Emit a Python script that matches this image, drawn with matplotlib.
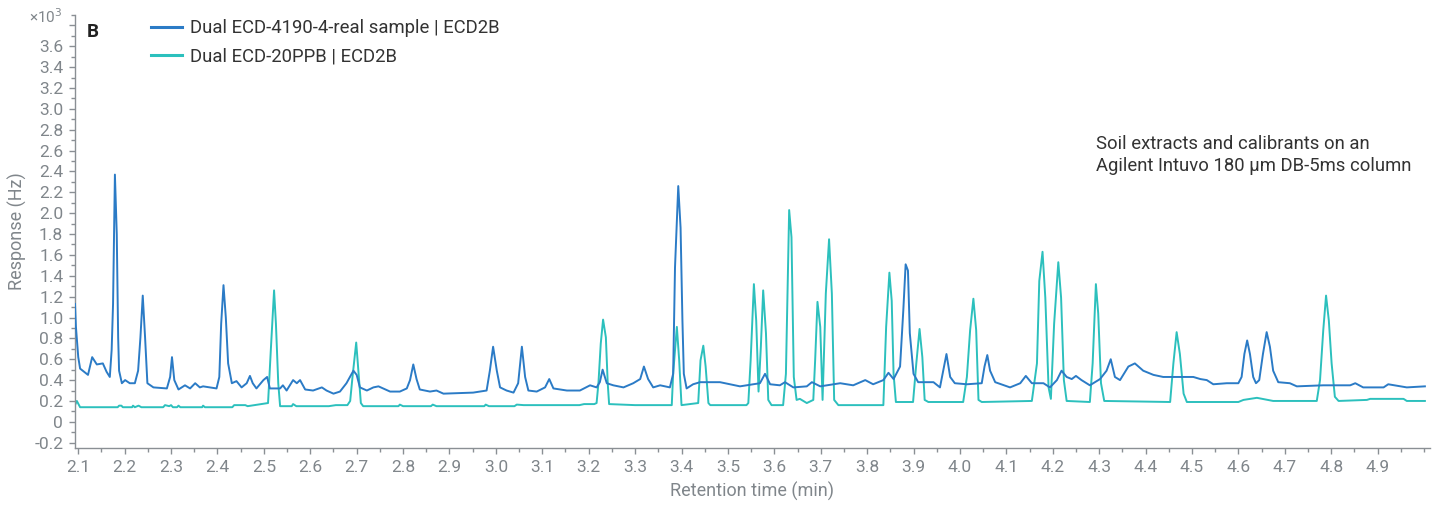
import matplotlib
matplotlib.use("Agg")
import matplotlib.pyplot as plt
from matplotlib.ticker import MultipleLocator, FixedLocator, FixedFormatter

plt.rcParams['font.family'] = ['Roboto', 'DejaVu Sans']

# Retention time (min) and response (x10^3 Hz) for the soil extract trace
sample_time = [
    2.093, 2.095, 2.100, 2.104, 2.121, 2.130, 2.140, 2.153, 2.161, 2.168,
    2.172, 2.175, 2.179, 2.183, 2.186, 2.188, 2.194, 2.201, 2.211, 2.222,
    2.229, 2.234, 2.239, 2.244, 2.249, 2.262, 2.291, 2.298, 2.302, 2.307,
    2.316, 2.330, 2.341, 2.352, 2.362, 2.369, 2.398, 2.404, 2.408, 2.413,
    2.418, 2.423, 2.431, 2.441, 2.452, 2.463, 2.470, 2.476, 2.484, 2.499,
    2.507, 2.513, 2.535, 2.541, 2.549, 2.563, 2.571, 2.578, 2.589, 2.606,
    2.625, 2.635, 2.650, 2.664, 2.678, 2.693, 2.700, 2.707, 2.722, 2.736,
    2.747, 2.757, 2.772, 2.793, 2.808, 2.815, 2.822, 2.829, 2.836, 2.858,
    2.872, 2.887, 2.951, 2.980, 2.987, 2.994, 3.002, 3.009, 3.023, 3.038,
    3.048, 3.056, 3.063, 3.070, 3.088, 3.106, 3.115, 3.124, 3.153, 3.181,
    3.203, 3.217, 3.224, 3.230, 3.239, 3.253, 3.275, 3.296, 3.311, 3.319,
    3.328, 3.339, 3.354, 3.375, 3.382, 3.386, 3.393, 3.398, 3.402, 3.405,
    3.411, 3.425, 3.440, 3.483, 3.526, 3.569, 3.580, 3.591, 3.612, 3.623,
    3.641, 3.670, 3.681, 3.699, 3.742, 3.770, 3.796, 3.813, 3.835, 3.846,
    3.857, 3.871, 3.878, 3.883, 3.888, 3.892, 3.900, 3.910, 3.943, 3.957,
    3.964, 3.971, 3.979, 3.989, 4.015, 4.047, 4.053, 4.059, 4.065, 4.076,
    4.108, 4.130, 4.142, 4.155, 4.180, 4.194, 4.209, 4.219, 4.230, 4.241,
    4.250, 4.262, 4.280, 4.302, 4.316, 4.325, 4.334, 4.345, 4.363, 4.377,
    4.395, 4.417, 4.438, 4.474, 4.503, 4.518, 4.532, 4.546, 4.575, 4.600,
    4.607, 4.613, 4.619, 4.625, 4.632, 4.638, 4.645, 4.653, 4.661, 4.668,
    4.675, 4.686, 4.711, 4.726, 4.783, 4.841, 4.852, 4.869, 4.913, 4.923,
    4.963, 5.002,
]
sample_resp = [
    1.13, 0.91, 0.62, 0.51, 0.45, 0.62, 0.55, 0.56, 0.48, 0.43,
    0.69, 1.13, 2.37, 1.80, 0.81, 0.49, 0.37, 0.40, 0.37, 0.37,
    0.49, 0.81, 1.21, 0.81, 0.37, 0.33, 0.32, 0.43, 0.62, 0.40,
    0.31, 0.35, 0.32, 0.37, 0.33, 0.34, 0.32, 0.43, 0.94, 1.31,
    1.00, 0.56, 0.37, 0.39, 0.33, 0.37, 0.44, 0.37, 0.32, 0.40,
    0.43, 0.32, 0.32, 0.35, 0.30, 0.40, 0.37, 0.40, 0.31, 0.30,
    0.33, 0.30, 0.27, 0.29, 0.37, 0.49, 0.45, 0.33, 0.30, 0.33,
    0.34, 0.32, 0.29, 0.29, 0.32, 0.40, 0.55, 0.41, 0.31, 0.29,
    0.30, 0.27, 0.28, 0.30, 0.49, 0.72, 0.49, 0.33, 0.30, 0.28,
    0.37, 0.72, 0.43, 0.30, 0.29, 0.33, 0.41, 0.32, 0.30, 0.30,
    0.35, 0.33, 0.38, 0.50, 0.37, 0.35, 0.33, 0.37, 0.41, 0.53,
    0.41, 0.33, 0.35, 0.33, 0.46, 1.48, 2.26, 1.86, 0.97, 0.46,
    0.32, 0.36, 0.38, 0.38, 0.34, 0.37, 0.46, 0.36, 0.35, 0.38,
    0.33, 0.34, 0.38, 0.34, 0.37, 0.35, 0.40, 0.36, 0.40, 0.47,
    0.41, 0.53, 1.07, 1.51, 1.45, 0.85, 0.46, 0.38, 0.38, 0.33,
    0.49, 0.65, 0.43, 0.37, 0.36, 0.37, 0.53, 0.64, 0.49, 0.38,
    0.33, 0.37, 0.44, 0.37, 0.37, 0.33, 0.40, 0.49, 0.43, 0.41,
    0.44, 0.40, 0.35, 0.41, 0.49, 0.60, 0.43, 0.40, 0.53, 0.56,
    0.49, 0.45, 0.43, 0.43, 0.43, 0.41, 0.40, 0.36, 0.37, 0.37,
    0.43, 0.65, 0.78, 0.65, 0.43, 0.37, 0.40, 0.65, 0.86, 0.72,
    0.49, 0.38, 0.37, 0.34, 0.35, 0.35, 0.37, 0.33, 0.33, 0.36,
    0.33, 0.34,
]

# Retention time (min) and response (x10^3 Hz) for the 20 ppb calibrant trace
calib_time = [
    2.093, 2.097, 2.104, 2.185, 2.188, 2.193, 2.196, 2.216, 2.218, 2.222,
    2.230, 2.236, 2.283, 2.287, 2.296, 2.300, 2.304, 2.313, 2.316, 2.320,
    2.367, 2.369, 2.373, 2.432, 2.436, 2.460, 2.465, 2.509, 2.515, 2.522,
    2.526, 2.531, 2.535, 2.560, 2.563, 2.570, 2.640, 2.655, 2.680, 2.686,
    2.691, 2.699, 2.703, 2.709, 2.714, 2.790, 2.793, 2.800, 2.860, 2.864,
    2.872, 2.975, 2.978, 2.985, 3.040, 3.045, 3.060, 3.090, 3.180, 3.190,
    3.212, 3.217, 3.221, 3.226, 3.231, 3.237, 3.241, 3.244, 3.300, 3.379,
    3.382, 3.390, 3.395, 3.400, 3.436, 3.441, 3.447, 3.452, 3.458, 3.462,
    3.540, 3.544, 3.549, 3.556, 3.561, 3.566, 3.571, 3.576, 3.582, 3.587,
    3.594, 3.619, 3.625, 3.632, 3.637, 3.642, 3.648, 3.655, 3.670, 3.684,
    3.688, 3.693, 3.699, 3.704, 3.711, 3.718, 3.724, 3.729, 3.738, 3.835,
    3.841, 3.848, 3.853, 3.857, 3.862, 3.899, 3.906, 3.913, 3.919, 3.924,
    3.932, 4.007, 4.015, 4.022, 4.029, 4.035, 4.040, 4.047, 4.155, 4.166,
    4.171, 4.178, 4.184, 4.191, 4.196, 4.203, 4.212, 4.218, 4.224, 4.230,
    4.280, 4.286, 4.293, 4.298, 4.304, 4.311, 4.453, 4.460, 4.467, 4.474,
    4.482, 4.489, 4.600, 4.611, 4.640, 4.675, 4.769, 4.776, 4.783, 4.789,
    4.795, 4.801, 4.808, 4.816, 4.877, 4.884, 4.956, 4.963, 5.002,
]
calib_resp = [
    0.16, 0.20, 0.14, 0.14, 0.155, 0.155, 0.14, 0.14, 0.155, 0.14,
    0.155, 0.14, 0.14, 0.16, 0.15, 0.16, 0.14, 0.14, 0.155, 0.14,
    0.14, 0.155, 0.14, 0.14, 0.16, 0.16, 0.15, 0.18, 0.69, 1.26,
    0.94, 0.37, 0.15, 0.15, 0.17, 0.15, 0.15, 0.16, 0.16, 0.20,
    0.43, 0.76, 0.53, 0.18, 0.15, 0.15, 0.165, 0.15, 0.15, 0.165,
    0.15, 0.15, 0.165, 0.15, 0.15, 0.165, 0.16, 0.16, 0.16, 0.17,
    0.17, 0.18, 0.37, 0.75, 0.98, 0.81, 0.37, 0.17, 0.16, 0.16,
    0.46, 0.91, 0.59, 0.16, 0.18, 0.59, 0.73, 0.53, 0.18, 0.16,
    0.16, 0.18, 0.59, 1.32, 0.97, 0.29, 0.72, 1.26, 0.85, 0.21,
    0.16, 0.16, 0.46, 2.03, 1.77, 0.43, 0.21, 0.22, 0.18, 0.21,
    0.59, 1.15, 0.91, 0.21, 1.23, 1.75, 1.23, 0.21, 0.16, 0.16,
    0.91, 1.43, 1.16, 0.46, 0.19, 0.19, 0.56, 0.89, 0.62, 0.21,
    0.19, 0.19, 0.43, 0.88, 1.18, 0.88, 0.21, 0.19, 0.20, 0.56,
    1.35, 1.63, 1.19, 0.33, 0.22, 0.94, 1.53, 1.19, 0.40, 0.20,
    0.19, 0.56, 1.32, 1.04, 0.37, 0.20, 0.19, 0.56, 0.86, 0.65,
    0.27, 0.19, 0.19, 0.21, 0.23, 0.20, 0.20, 0.40, 0.88, 1.21,
    0.97, 0.56, 0.24, 0.20, 0.21, 0.22, 0.22, 0.20, 0.20,
]

sample_label = "Dual ECD-4190-4-real sample | ECD2B"
calib_label = "Dual ECD-20PPB | ECD2B"
x_ticks = [2.1, 2.2, 2.3, 2.4, 2.5, 2.6, 2.7, 2.8, 2.9, 3.0,
           3.1, 3.2, 3.3, 3.4, 3.5, 3.6, 3.7, 3.8, 3.9, 4.0,
           4.1, 4.2, 4.3, 4.4, 4.5, 4.6, 4.7, 4.8, 4.9]
y_ticks = [-0.2, 0, 0.2, 0.4, 0.6, 0.8, 1.0, 1.2, 1.4, 1.6, 1.8, 2.0,
           2.2, 2.4, 2.6, 2.8, 3.0, 3.2, 3.4, 3.6, 3.8]
y_tick_labels = ["-0.2", "0", "0.2", "0.4", "0.6", "0.8", "1.0", "1.2",
                 "1.4", "1.6", "1.8", "2.0", "2.2", "2.4", "2.6", "2.8",
                 "3.0", "3.2", "3.4", "3.6", ""]

SAMPLE_COLOR = "#2b7bc6"
CALIB_COLOR = "#2cc0bd"
AXIS_GREY = "#8a8f94"
TEXT_GREY = "#80868b"

fig = plt.figure(figsize=(14.4, 5.08), dpi=100)
ax = fig.add_axes([75 / 1440, 60 / 508, 1355 / 1440, 433 / 508])

ax.plot(calib_time, calib_resp, color=CALIB_COLOR, lw=1.4, label=calib_label,
        zorder=2, solid_joinstyle="round")
ax.plot(sample_time, sample_resp, color=SAMPLE_COLOR, lw=1.4, label=sample_label,
        zorder=3, solid_joinstyle="round")

ax.set_xlim(2.093, 5.013)
ax.set_ylim(-0.251, 3.9)

for side in ("top", "right"):
    ax.spines[side].set_visible(False)
for side in ("left", "bottom"):
    ax.spines[side].set_color(AXIS_GREY)
    ax.spines[side].set_linewidth(1.0)

ax.xaxis.set_major_locator(FixedLocator(x_ticks))
ax.xaxis.set_major_formatter(FixedFormatter([f"{v:.1f}" for v in x_ticks]))
ax.xaxis.set_minor_locator(MultipleLocator(0.05))
ax.yaxis.set_major_locator(FixedLocator(y_ticks))
ax.yaxis.set_major_formatter(FixedFormatter(y_tick_labels))
ax.yaxis.set_minor_locator(MultipleLocator(0.1))

ax.tick_params(which="both", direction="out", color=AXIS_GREY, width=1.0)
ax.tick_params(which="major", length=4.5, labelsize=12.5, labelcolor=TEXT_GREY, pad=4)
ax.tick_params(which="minor", length=3.0)

ax.set_xlabel("Retention time (min)", fontsize=13, color=TEXT_GREY, labelpad=5)
ax.set_ylabel("Response (Hz)", fontsize=13, color=TEXT_GREY, labelpad=5)

fig.text(62 / 1440, 1 - 17 / 508, "×10$^3$", ha="right", va="center",
         fontsize=11, color=TEXT_GREY)
fig.text(87 / 1440, 1 - 32 / 508, "B", ha="left", va="center",
         fontsize=13.5, fontweight="bold", color="#222222")

handles, labels = ax.get_legend_handles_labels()
leg = fig.legend(handles[::-1], labels[::-1], loc="upper left",
                 bbox_to_anchor=(151 / 1440, 1 - 19 / 508), frameon=False,
                 fontsize=13.3, handlelength=1.7, handletextpad=0.4,
                 labelspacing=0.58, borderpad=0, borderaxespad=0)
for t in leg.get_texts():
    t.set_color("#333333")
for h in leg.get_lines():
    h.set_linewidth(2.2)

fig.text(1096 / 1440, 1 - 155 / 508,
         "Soil extracts and calibrants on an\nAgilent Intuvo 180 µm DB-5ms column",
         ha="left", va="center", fontsize=13.3, color="#333333", linespacing=1.35)

fig.savefig("out.png", dpi=100)
